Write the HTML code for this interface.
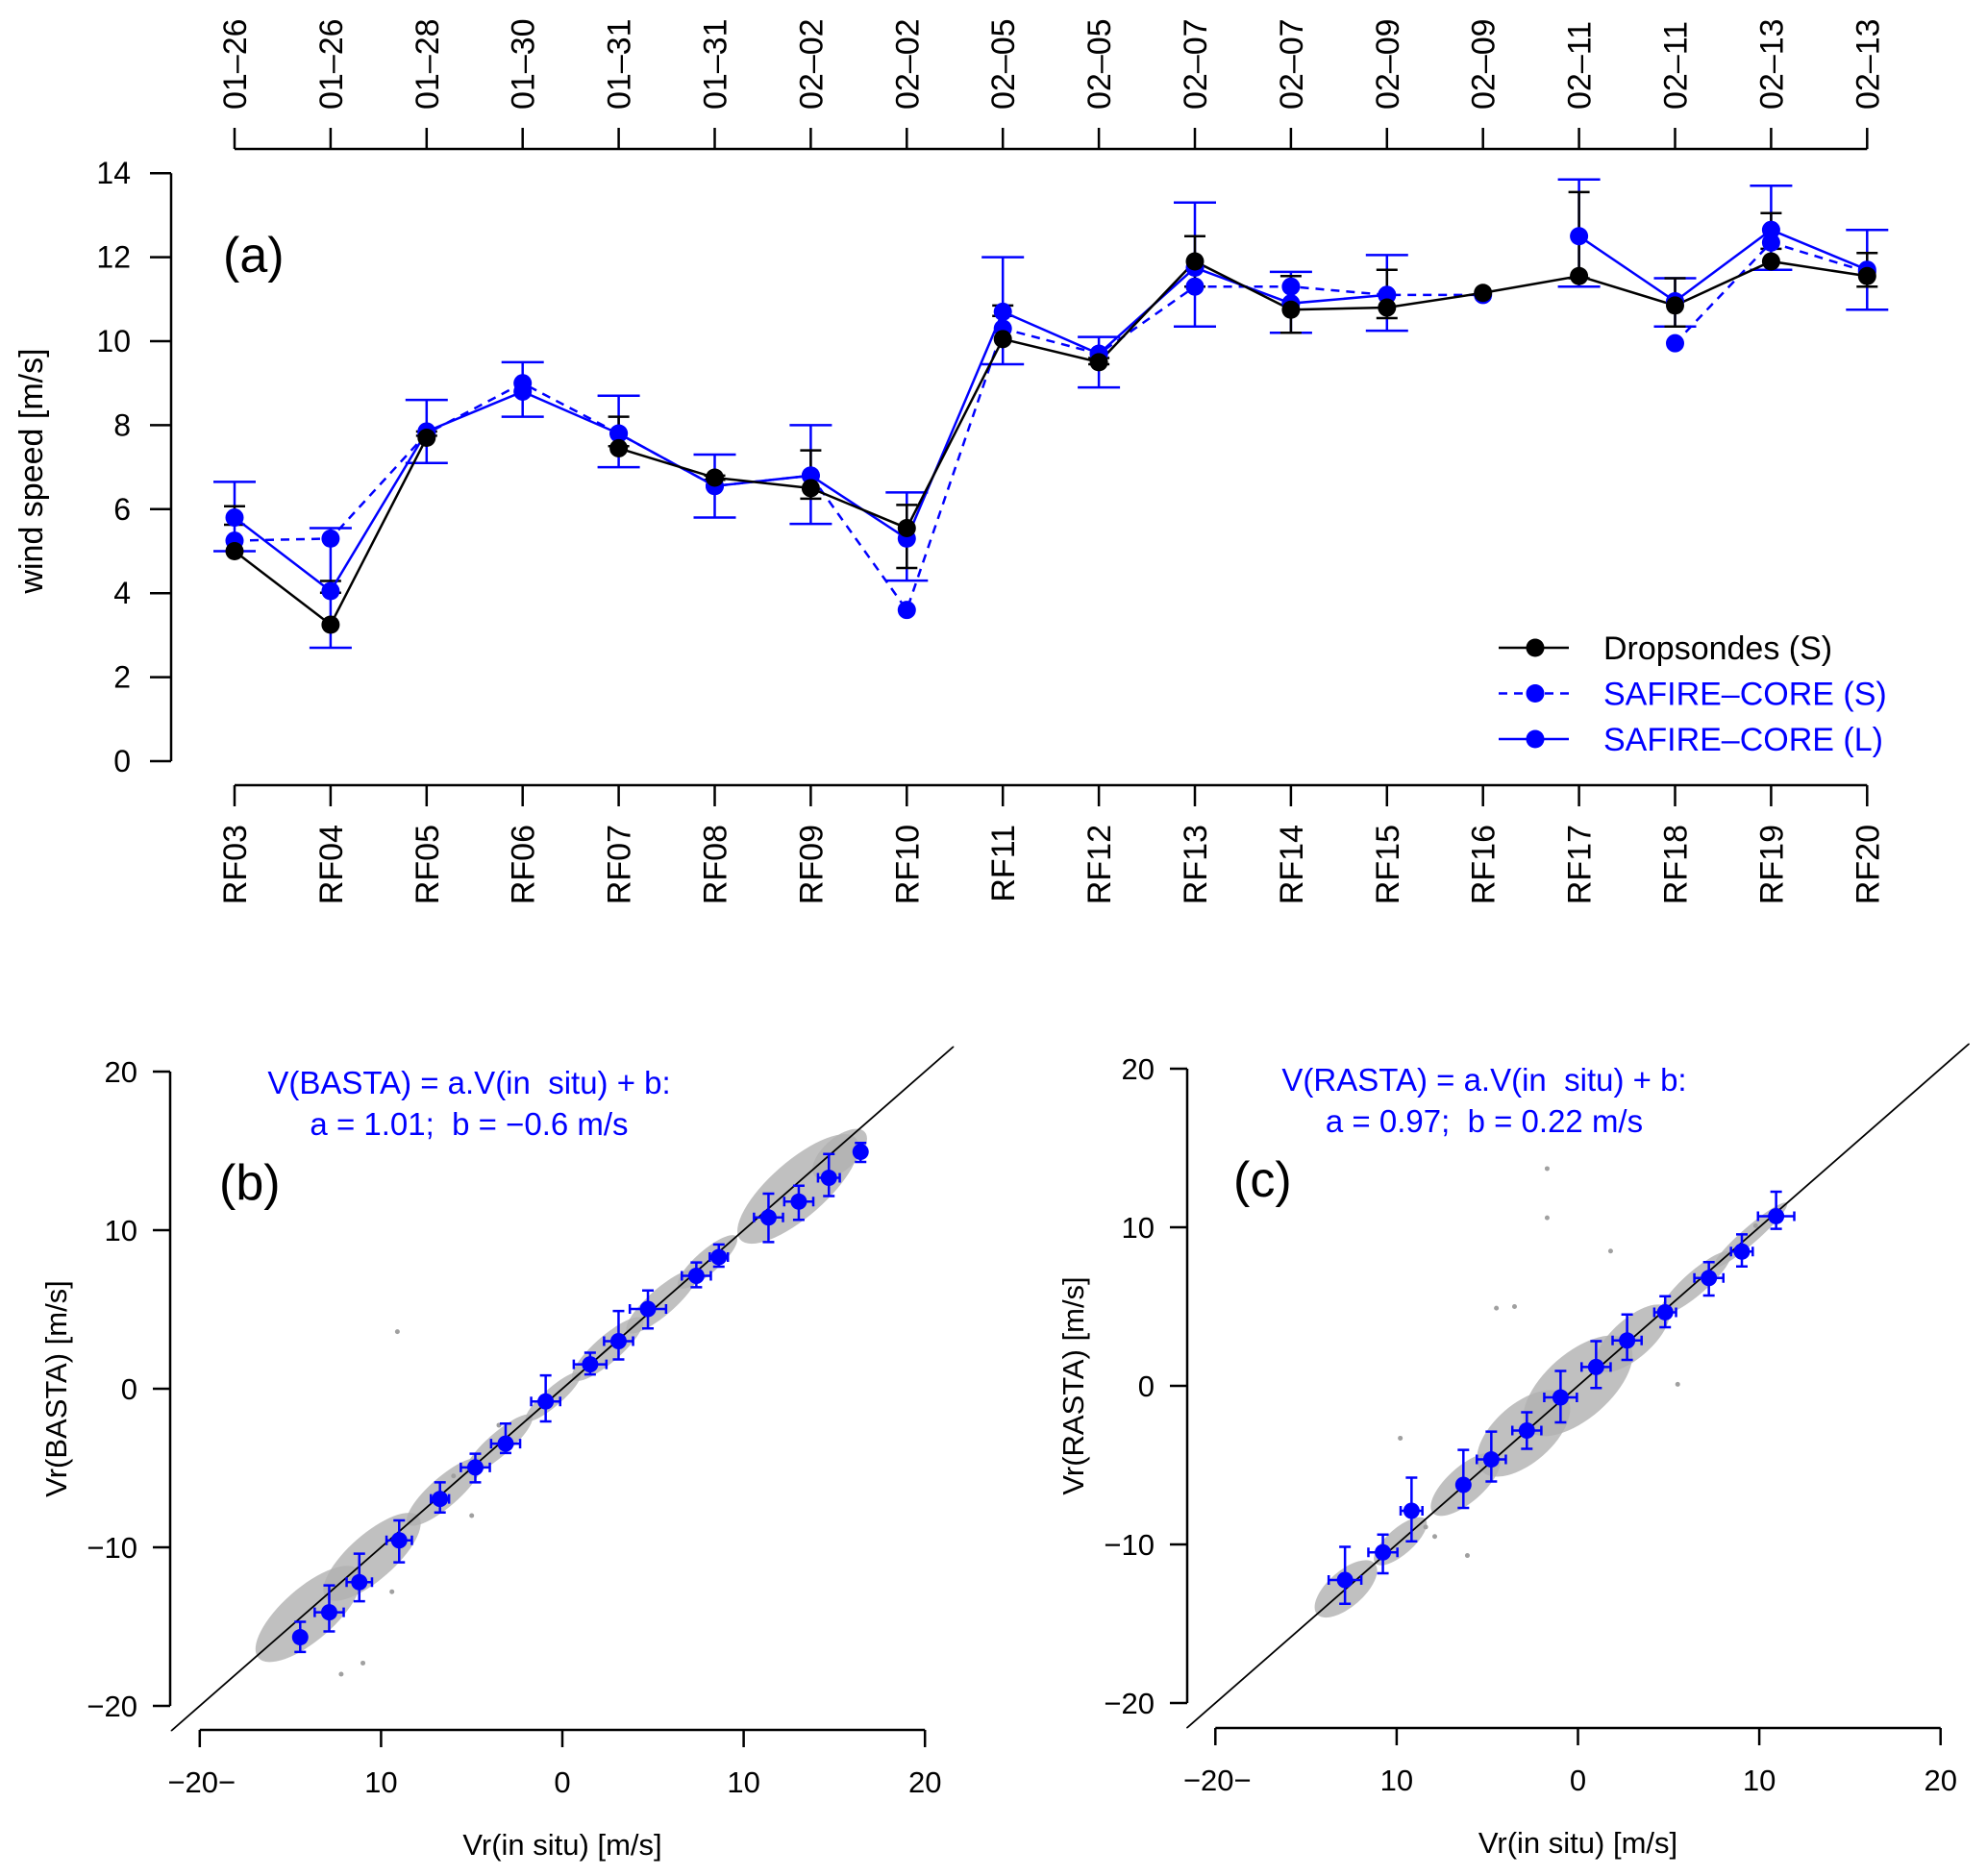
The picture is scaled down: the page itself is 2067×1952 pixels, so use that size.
<!DOCTYPE html>
<html><head><meta charset="utf-8">
<style>
html,body{margin:0;padding:0;background:#fff;}
svg{display:block;font-family:"Liberation Sans",Arial,sans-serif;}
</style></head>
<body>
<svg id="fig" width="2067" height="1952" viewBox="0 0 2067 1952" xmlns="http://www.w3.org/2000/svg">
<rect width="2067" height="1952" fill="#fff"/>
<g id="pa"></g>
<g id="pb"></g>
<g id="pc"></g>
</svg>
<script>
// ---------- Panel (a) data ----------
const flights = ["RF03","RF04","RF05","RF06","RF07","RF08","RF09","RF10","RF11","RF12","RF13","RF14","RF15","RF16","RF17","RF18","RF19","RF20"];
const dates = ["01–26","01–26","01–28","01–30","01–31","01–31","02–02","02–02","02–05","02–05","02–07","02–07","02–09","02–09","02–11","02–11","02–13","02–13"];
const dropVals = [5.0,3.25,7.7,null,7.45,6.75,6.5,5.55,10.05,9.5,11.9,10.75,10.8,11.15,11.55,10.85,11.9,11.55];
const dropLo = [5.63,4.01,7.75,null,7.5,6.7,6.25,4.6,10.6,9.45,11.3,10.2,10.55,null,11.5,10.35,12.2,11.3];
const dropHi = [6.07,4.29,7.85,null,8.2,6.8,7.4,6.1,10.85,9.6,12.5,11.55,11.7,null,13.55,11.5,13.05,12.1];
const safSVals = [5.25,5.3,7.8,9.0,7.8,6.55,6.8,3.6,10.3,9.7,11.3,11.3,11.1,11.1,null,9.95,12.35,11.65];
const safLVals = [5.8,4.05,7.85,8.8,7.8,6.55,6.8,5.3,10.7,9.7,11.75,10.9,11.1,null,12.5,10.95,12.65,11.7];
const safLLo = [5.0,2.7,7.1,8.2,7.0,5.8,5.65,4.3,9.45,8.9,10.35,10.2,10.25,null,11.3,10.35,11.7,10.75];
const safLHi = [6.65,5.55,8.6,9.5,8.7,7.3,8.0,6.4,12.0,10.1,13.3,11.65,12.05,null,13.85,11.5,13.7,12.65];
const yTicksA = [0,2,4,6,8,10,12,14];

// ---------- Panel (b) data ----------
const bX = [-14.46,-12.86,-11.2,-9.0,-6.75,-4.8,-3.13,-0.92,1.53,3.1,4.72,7.39,8.63,11.37,13.04,14.7,16.45];
const bY = [-15.67,-14.1,-12.2,-9.56,-6.95,-4.96,-3.46,-0.8,1.54,3.0,5.03,7.12,8.3,10.8,11.8,13.3,14.94];
const bYlo = [-16.6,-15.3,-13.4,-10.95,-7.8,-5.9,-4.05,-2.06,0.9,1.85,3.8,6.4,7.7,9.25,10.65,12.15,14.3];
const bYhi = [-14.7,-12.4,-10.4,-8.3,-5.9,-4.1,-2.2,0.84,2.27,4.9,6.2,7.96,9.1,12.3,12.8,14.8,15.5];
const bXerr = [0.0,0.8,0.7,0.7,0.5,0.8,0.8,0.8,0.9,0.8,1.0,0.8,0.5,0.8,0.8,0.6,0.0];
const bCloudX = [-14,-10.5,-6.5,-3.5,-0.5,2.5,5.5,8,13,15.3];
const bCloudY = [-14.2,-10.6,-6.5,-3.5,-0.5,2.5,5.5,8,12.6,14.8];
const bCloudLen = [2.6,2.4,1.9,1.7,1.4,1.8,1.8,1.5,3.0,1.3];
const bCloudWid = [1.6,1.4,0.9,0.7,0.55,0.8,0.8,0.7,1.7,1.0];
const bOutX = [-9.1,-6.0,-5.0,-3.5,-9.4,-11.0,-12.2];
const bOutY = [3.6,-5.5,-8.0,-2.3,-12.8,-17.3,-18.0];

// ---------- Panel (c) data ----------
const cX = [-12.85,-10.76,-9.18,-6.32,-4.78,-2.82,-0.96,1.0,2.71,4.81,7.22,9.04,10.93];
const cY = [-12.24,-10.5,-7.88,-6.24,-4.64,-2.82,-0.73,1.19,2.86,4.64,6.8,8.47,10.7];
const cYlo = [-13.74,-11.82,-9.8,-7.7,-6.03,-3.97,-2.3,-0.14,1.64,3.7,5.7,7.53,9.9];
const cYhi = [-10.15,-9.38,-5.79,-4.04,-2.89,-1.67,0.94,2.82,4.5,5.65,7.8,9.55,12.24];
const cXerr = [0.9,0.8,0.6,0.0,0.8,0.8,0.9,0.8,0.8,0.6,0.8,0.6,1.0];
const cCloudX = [-12.8,-9.8,-6.2,-3.0,0.0,3.0,6.5,9.5];
const cCloudY = [-12.8,-9.8,-6.2,-3.0,0.0,3.0,6.5,9.5];
const cCloudLen = [1.5,1.3,1.7,2.2,2.6,1.8,1.8,1.9];
const cCloudWid = [1.1,0.8,1.1,1.8,2.0,1.2,0.7,0.5];
const cOutX = [-1.7,-1.7,-3.5,-4.5,-9.8,-7.9,-8.4,-6.1,1.8,5.5,9.8];
const cOutY = [13.7,10.6,5.0,4.9,-3.3,-9.5,-8.9,-10.7,8.5,0.1,10.1];

const axisTicksXY = [-20,-10,0,10,20];
const axisTickLabelsX = ["−20−","10","0","10","20"];
const axisTickLabelsY = ["−20","−10","0","10","20"];

const NS="http://www.w3.org/2000/svg";
function mk(parent,tag,attrs,text){const e=document.createElementNS(NS,tag);for(const k in attrs)e.setAttribute(k,attrs[k]);if(text!==undefined)e.textContent=text;parent.appendChild(e);return e;}

// ===== Panel A =====
(function(){
const g=document.getElementById('pa');
const xA=i=>244+i*99.9;
const yA=v=>792-v*43.7;
const BLUE="#0000ff";
let ax=mk(g,'path',{d:`M178 ${yA(0)} V ${yA(14)}`,stroke:'#000','stroke-width':2.5,fill:'none'});

yTicksA.forEach(v=>{
 let t=mk(g,'line',{x1:156,x2:178,y1:yA(v),y2:yA(v),stroke:'#000','stroke-width':2.5});
 
 let l=mk(g,'text',{x:136,y:yA(v)+11,'text-anchor':'end','font-size':32},String(v));
 
});
let yt=mk(g,'text',{x:0,y:0,'text-anchor':'middle','font-size':34,transform:'translate(44,490) rotate(-90)'},'wind speed [m/s]');

let bx=mk(g,'path',{d:`M${xA(0)} 817 H ${xA(17)}`,stroke:'#000','stroke-width':2.5,fill:'none'});

let tx=mk(g,'path',{d:`M${xA(0)} 155 H ${xA(17)}`,stroke:'#000','stroke-width':2.5,fill:'none'});

flights.forEach((f,i)=>{
 let t=mk(g,'line',{x1:xA(i),x2:xA(i),y1:817,y2:839,stroke:'#000','stroke-width':2.5});
 
 let l=mk(g,'text',{x:0,y:0,'text-anchor':'end','font-size':34,transform:`translate(${xA(i)+12},858) rotate(-90)`},f);
 
 let t2=mk(g,'line',{x1:xA(i),x2:xA(i),y1:133,y2:155,stroke:'#000','stroke-width':2.5});
 
 let l2=mk(g,'text',{x:0,y:0,'text-anchor':'start','font-size':34,transform:`translate(${xA(i)+12},114) rotate(-90)`},dates[i]);
 
});
let pl=mk(g,'text',{x:232,y:283,'font-size':52},'(a)');

function linePath(vals){let d='',pen=false;vals.forEach((v,i)=>{if(v===null){pen=false;return;}d+=(pen?'L':'M')+xA(i)+' '+yA(v)+' ';pen=true;});return d;}
function errs(lo,hi,col,w,name){lo.forEach((l,i)=>{if(l===null)return;const h=hi[i];
 let e=mk(g,'path',{d:`M${xA(i)} ${yA(l)} V ${yA(h)} M${xA(i)-w} ${yA(l)} H ${xA(i)+w} M${xA(i)-w} ${yA(h)} H ${xA(i)+w}`,stroke:col,'stroke-width':2.5,fill:'none'});
 });}
errs(safLLo,safLHi,BLUE,22,'error-bar-safire-l');
errs(dropLo,dropHi,'#000',11,'error-bar-dropsonde');
let ls=mk(g,'path',{d:linePath(safSVals),stroke:BLUE,'stroke-width':2.5,fill:'none','stroke-dasharray':'9 7'});

let ll=mk(g,'path',{d:linePath(safLVals),stroke:BLUE,'stroke-width':2.5,fill:'none'});

let ld=mk(g,'path',{d:linePath(dropVals),stroke:'#000','stroke-width':2.5,fill:'none'});

function dots(vals,col,name){vals.forEach((v,i)=>{if(v===null)return;
 let c=mk(g,'circle',{cx:xA(i),cy:yA(v),r:9.5,fill:col});
 });}
dots(safSVals,BLUE,'point-safire-s');
dots(safLVals,BLUE,'point-safire-l');
dots(dropVals,'#000','point-dropsonde');
const leg=[["Dropsondes (S)",'#000',null],["SAFIRE–CORE (S)",BLUE,'9 7'],["SAFIRE–CORE (L)",BLUE,null]];
const lg=mk(g,'g',{});
leg.forEach((L,k)=>{const y=674+k*47.5;
 const a={x1:1559,x2:1632,y1:y,y2:y,stroke:L[1],'stroke-width':2.5};if(L[2])a['stroke-dasharray']=L[2];
 let ln=mk(lg,'line',a);
 let c=mk(lg,'circle',{cx:1597,cy:y,r:9.5,fill:L[1]});
 let t=mk(lg,'text',{x:1668,y:y+12,'font-size':34,fill:L[1]},L[0]);
});
})();

// ===== Scatter panels =====
function scatter(gid,cfg){
const g=document.getElementById(gid);
const BLUE="#0000ff";
const sx=v=>cfg.x0+v*18.86;
const sy=v=>cfg.y0-v*16.5;
const clipId='clip'+gid;
const defs=mk(g,'defs',{});
const cp=mk(defs,'clipPath',{id:clipId});
mk(cp,'rect',{x:sx(-21.6),y:sy(21.6),width:sx(21.6)-sx(-21.6),height:sy(-21.6)-sy(21.6)});
let ya=mk(g,'path',{d:`M${cfg.ax} ${sy(-20)} V ${sy(20)}`,stroke:'#000','stroke-width':2.5,fill:'none'});

let xa=mk(g,'path',{d:`M${sx(-20)} ${cfg.ay} H ${sx(20)}`,stroke:'#000','stroke-width':2.5,fill:'none'});

axisTicksXY.forEach((v,k)=>{
 let t=mk(g,'line',{x1:cfg.ax-18,x2:cfg.ax,y1:sy(v),y2:sy(v),stroke:'#000','stroke-width':2.5});
 
 let l=mk(g,'text',{x:cfg.ax-34,y:sy(v)+11,'text-anchor':'end','font-size':31},axisTickLabelsY[k]);
 
 let t2=mk(g,'line',{x1:sx(v),x2:sx(v),y1:cfg.ay,y2:cfg.ay+18,stroke:'#000','stroke-width':2.5});
 
 let l2=mk(g,'text',{x:sx(v)+(k===0?2:0),y:cfg.ay+65,'text-anchor':'middle','font-size':31},axisTickLabelsX[k]);
 
});
let xt=mk(g,'text',{x:sx(0),y:cfg.ay+130,'text-anchor':'middle','font-size':31},'Vr(in situ) [m/s]');

let ytt=mk(g,'text',{x:0,y:0,'text-anchor':'middle','font-size':31,transform:`translate(${cfg.ax-108},${sy(0)}) rotate(-90)`},cfg.ylab);

const cg=mk(g,'g',{'clip-path':`url(#${clipId})`});

cfg.cx.forEach((x,i)=>{
 const len=cfg.cl[i]*18.86*Math.SQRT2, wid=cfg.cw[i]*17;
 let e=mk(cg,'ellipse',{cx:sx(x),cy:sy(cfg.cy[i]),rx:len,ry:wid,fill:'#b0b0b0','fill-opacity':0.8,transform:`rotate(-41.2 ${sx(x)} ${sy(cfg.cy[i])})`});
 
});
cfg.ox.forEach((x,i)=>{
 let d=mk(cg,'circle',{cx:sx(x),cy:sy(cfg.oy[i]),r:2.5,fill:'#a0a0a0'});
 
});
let dl=mk(g,'line',{x1:sx(-21.6),y1:sy(-21.6),x2:sx(21.6),y2:sy(21.6),stroke:'#000','stroke-width':1.8,'clip-path':`url(#${clipId})`});

cfg.px.forEach((x,i)=>{
 const X=sx(x),Y=sy(cfg.py[i]),lo=sy(cfg.plo[i]),hi=sy(cfg.phi[i]),xe=cfg.pxe[i]*18.86;
 let d=`M${X} ${lo} V ${hi} M${X-6} ${lo} H ${X+6} M${X-6} ${hi} H ${X+6}`;
 if(xe>0)d+=` M${X-xe} ${Y} H ${X+xe} M${X-xe} ${Y-5} V ${Y+5} M${X+xe} ${Y-5} V ${Y+5}`;
 let e=mk(g,'path',{d:d,stroke:BLUE,'stroke-width':2.5,fill:'none'});
 
 let c=mk(g,'circle',{cx:X,cy:Y,r:8.5,fill:BLUE});
 
});
let e1=mk(g,'text',{x:cfg.ex,y:sy(20)+23,'text-anchor':'middle','font-size':33,fill:BLUE,style:'white-space:pre'},cfg.eq1);

let e2=mk(g,'text',{x:cfg.ex,y:sy(20)+66,'text-anchor':'middle','font-size':33,fill:BLUE,style:'white-space:pre'},cfg.eq2);

let pl=mk(g,'text',{x:cfg.lx,y:sy(20)+133,'font-size':52},cfg.label);

}
scatter('pb',{x0:585,y0:1445,ax:177,ay:1800,ylab:'Vr(BASTA) [m/s]',
 px:bX,py:bY,plo:bYlo,phi:bYhi,pxe:bXerr,cx:bCloudX,cy:bCloudY,cl:bCloudLen,cw:bCloudWid,ox:bOutX,oy:bOutY,
 eq1:'V(BASTA) = a.V(in  situ) + b:',eq2:'a = 1.01;  b = −0.6 m/s',ex:488,lx:228,label:'(b)'});
scatter('pc',{x0:1641.5,y0:1442,ax:1235,ay:1798,ylab:'Vr(RASTA) [m/s]',
 px:cX,py:cY,plo:cYlo,phi:cYhi,pxe:cXerr,cx:cCloudX,cy:cCloudY,cl:cCloudLen,cw:cCloudWid,ox:cOutX,oy:cOutY,
 eq1:'V(RASTA) = a.V(in  situ) + b:',eq2:'a = 0.97;  b = 0.22 m/s',ex:1544,lx:1283,label:'(c)'});
</script>
</body></html>
